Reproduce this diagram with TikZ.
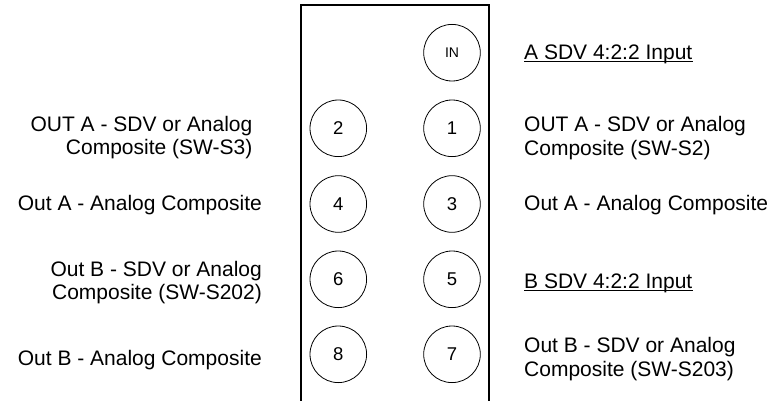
\documentclass[tikz,border=0pt]{standalone}
\usepackage{fontspec}
\setmainfont{Liberation Sans}
\begin{document}
\begin{tikzpicture}[x=1pt,y=-1pt,
  port/.style={circle,draw,line width=0.8pt,minimum size=56.6pt,inner sep=0pt,font=\fontsize{18.5}{20}\selectfont},
  portsmall/.style={port,font=\fontsize{14}{16}\selectfont},
  lbl/.style={inner sep=0pt,font=\fontsize{21}{23.5}\selectfont},
  rlbl/.style={lbl,anchor=base west,align=left},
  llbl/.style={lbl,anchor=base east,align=right},
  panel/.style={line width=1.8pt},
  uline/.style={line width=0.9pt}]
\useasboundingbox (0,0) rectangle (776,401);
\draw[panel] (300.7,402) -- (300.7,5.3) -- (489.3,5.3) -- (489.3,402);
% ports
\node[portsmall] (in) at (452,52.7) {IN};
\node[port] (p1) at (452,128.3) {1};
\node[port] (p2) at (338.3,128.3) {2};
\node[port] (p3) at (452,204) {3};
\node[port] (p4) at (338.3,204) {4};
\node[port] (p5) at (452,279.3) {5};
\node[port] (p6) at (338.3,279.3) {6};
\node[port] (p7) at (452,354.3) {7};
\node[port] (p8) at (338.3,354.3) {8};
% right labels
\node[rlbl] (la) at (524,59.5) {A SDV 4:2:2 Input};
\draw[uline] ([yshift=-2.3pt]la.base west) -- ([yshift=-2.3pt]la.base east);
\node[rlbl] (l1) at (524,155) {OUT A - SDV or Analog\\Composite (SW-S2)};
\node[rlbl] (l3) at (524,210.5) {Out A - Analog Composite};
\node[rlbl] (lb) at (524,288) {B SDV 4:2:2 Input};
\draw[uline] ([yshift=-2.3pt]lb.base west) -- ([yshift=-2.3pt]lb.base east);
\node[rlbl] (l7) at (524,376) {Out B - SDV or Analog\\Composite (SW-S203)};
% left labels
\node[llbl] (l2) at (252.5,154.5) {OUT A - SDV or Analog\\Composite (SW-S3)};
\node[llbl] (l4) at (262,210.5) {Out A - Analog Composite};
\node[llbl] (l6) at (262,299.5) {Out B - SDV or Analog\\Composite (SW-S202)};
\node[llbl] (l8) at (262,365) {Out B - Analog Composite};
\end{tikzpicture}
\end{document}
